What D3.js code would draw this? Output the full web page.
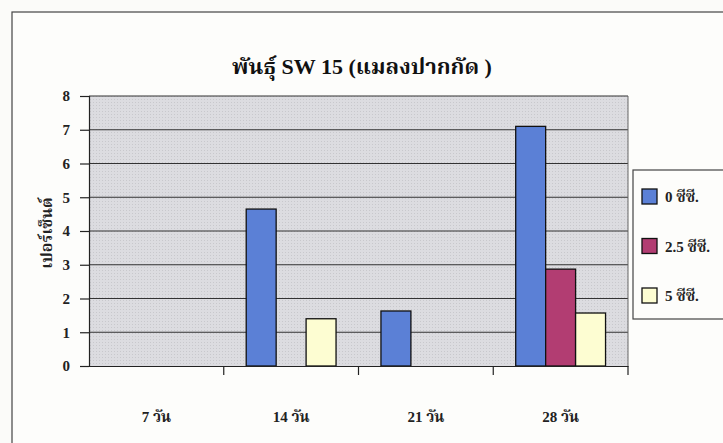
<!DOCTYPE html>
<html><head><meta charset="utf-8">
<script src="https://cdn.jsdelivr.net/npm/d3@7"></script>
<style>body{margin:0;background:#fbfbf9;} text{font-family:"Liberation Serif","Noto Serif Thai","Noto Sans",serif;}</style>
</head><body>
<svg id="c" width="723" height="443"></svg>
<script>
const categories = ["7 วัน","14 วัน","21 วัน","28 วัน"];
const seriesNames = ["0 ซีซี.","2.5 ซีซี.","5 ซีซี."];
const seriesValues = [
  [0, 4.65, 1.63, 7.1],
  [0, 0, 0, 2.87],
  [0, 1.4, 0, 1.57]
];
const colors = ["#5b80d6","#b23d72","#fdfdd2"];
const yTicks = [0,1,2,3,4,5,6,7,8];
const title = "พันธุ์ SW 15 (แมลงปากกัด )";
const yLabel = "เปอร์เซ็นต์";

const svg = d3.select("#c");
// outer chart border
svg.append("rect").attr("x",12).attr("y",12).attr("width",760).attr("height",460)
  .attr("fill","#fdfdfb").attr("stroke","#444").attr("stroke-width",1.2);

const L=89,R=628,T=96,B=366;
const x = d3.scaleBand().domain(categories).range([L,R]);
const y = d3.scaleLinear().domain([0,8]).range([B,T]);
const xs = d3.scaleBand().domain(d3.range(seriesNames.length)).range([0,x.bandwidth()]).paddingInner(0).paddingOuter(0.75);

const defs = svg.append("defs");
const pat = defs.append("pattern").attr("id","dots").attr("width",3).attr("height",3).attr("patternUnits","userSpaceOnUse");
pat.append("rect").attr("width",3).attr("height",3).attr("fill","#dcdce0");
pat.append("rect").attr("width",1).attr("height",1).attr("fill","#c8c8cc");

svg.append("rect").attr("x",L).attr("y",T).attr("width",R-L).attr("height",B-T).attr("fill","url(#dots)");
// gridlines
svg.append("g").selectAll("line").data(yTicks.filter(d=>d>0)).join("line")
  .attr("x1",L).attr("x2",R).attr("y1",d=>y(d)).attr("y2",d=>y(d))
  .attr("stroke","#333").attr("stroke-width",1.2);
// right border
svg.append("line").attr("x1",R).attr("x2",R).attr("y1",T).attr("y2",B).attr("stroke","#666").attr("stroke-width",1);

// bars
seriesValues.forEach((vals,si)=>{
  svg.append("g").selectAll("rect").data(vals.map((v,i)=>({v,c:categories[i]})).filter(d=>d.v>0)).join("rect")
    .attr("x",d=>x(d.c)+xs(si)).attr("width",xs.bandwidth())
    .attr("y",d=>y(d.v)).attr("height",d=>B-y(d.v))
    .attr("fill",colors[si]).attr("stroke","#111").attr("stroke-width",1.3);
});

// y axis
const ya = svg.append("g").attr("transform",`translate(${L},0)`)
  .call(d3.axisLeft(y).tickValues(yTicks).tickSize(9).tickPadding(10).tickFormat(d3.format("d")));
ya.select(".domain").attr("stroke","#222").attr("stroke-width",1.2);
ya.selectAll(".tick line").attr("stroke","#222").attr("stroke-width",1.2);
ya.selectAll("text").attr("font-size",15).attr("font-weight","bold").attr("fill","#222").attr("font-family","Liberation Serif");
// x axis
const xa = svg.append("g").attr("transform",`translate(0,${B})`)
  .call(d3.axisBottom(x).tickSize(0).tickFormat(""));
xa.select(".domain").attr("stroke","#222").attr("stroke-width",1.2);
svg.append("g").selectAll("line").data(categories.slice(1).concat(["end"])).join("line")
  .attr("x1",(d,i)=>i<3?x(d):R).attr("x2",(d,i)=>i<3?x(d):R)
  .attr("y1",B).attr("y2",B+9).attr("stroke","#222").attr("stroke-width",1.2);
svg.append("g").selectAll("text").data(categories).join("text")
  .attr("x",d=>x(d)+x.bandwidth()/2).attr("y",422).attr("text-anchor","middle")
  .attr("font-size",15).attr("font-weight","bold").attr("fill","#222").text(d=>d);

// title
svg.append("text").attr("x",362).attr("y",74).attr("text-anchor","middle")
  .attr("font-size",22).attr("font-weight","bold").attr("fill","#111").text(title);
// y label
svg.append("text").attr("transform","translate(52,233) rotate(-90)").attr("text-anchor","middle")
  .attr("font-size",16).attr("font-weight","bold").attr("fill","#222").text(yLabel);

// legend
const lg = svg.append("g");
lg.append("rect").attr("x",633).attr("y",170).attr("width",110).attr("height",149)
  .attr("fill","#fdfdfb").attr("stroke","#444").attr("stroke-width",1.2);
seriesNames.forEach((n,i)=>{
  const yy = 197 + i*49.5;
  lg.append("rect").attr("x",642).attr("y",yy-8).attr("width",15).attr("height",15)
    .attr("fill",colors[i]).attr("stroke","#111").attr("stroke-width",1.3);
  lg.append("text").attr("x",665).attr("y",yy+5).attr("font-size",15).attr("font-weight","bold").attr("fill","#222").text(n);
});
</script>
</body></html>
